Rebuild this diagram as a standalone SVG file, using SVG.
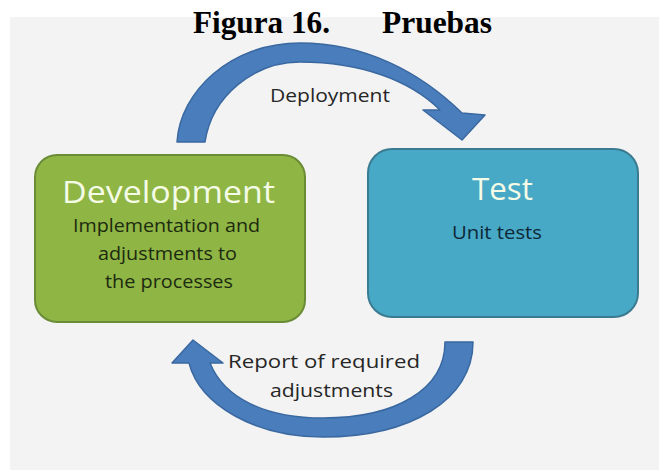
<svg xmlns="http://www.w3.org/2000/svg" width="659" height="470" viewBox="0 0 659 470">
<style>
.title{font-family:"Liberation Serif",serif;font-weight:bold;font-size:31px;fill:#000}
.lbl{font-family:"Open Sans","Liberation Sans",sans-serif;font-size:19px;fill:#262626}
.head{font-family:"Open Sans","Liberation Sans",sans-serif;font-size:31px;fill:#f4fbe6}
.sub{font-family:"Open Sans","Liberation Sans",sans-serif;font-size:18px}
.arrow{fill:#4a7dbb;stroke:#3a68a0;stroke-width:1.5;stroke-linejoin:round}
</style>
<rect x="0" y="0" width="659" height="470" fill="#ffffff"/>
<rect x="10" y="17" width="649" height="453" fill="#f3f3f3"/>
<text class="title" x="193" y="33" textLength="137" lengthAdjust="spacingAndGlyphs">Figura 16.</text>
<text class="title" x="382" y="33" textLength="110" lengthAdjust="spacingAndGlyphs">Pruebas</text>
<g id="connectors">
<path class="arrow" d="M177,142 C180,92 230,43 300,43 C365,43 420,72 462,113 L485,115 L462,140 L423,110 L440,110 C410,80 360,62 300,62 C255,62 212,95 205,142 Z"/>
<path class="arrow" d="M445,342 L473,342 C473,400 410,437 323,437 C255,437 200,405 189,363 L172,363 L193,340 L223,363 L210,363 C224,398 265,418 323,418 C395,418 445,390 445,342 Z"/>
<text class="lbl" x="270" y="102" textLength="120" lengthAdjust="spacingAndGlyphs">Deployment</text>
<text class="lbl" x="228" y="368" textLength="192" lengthAdjust="spacingAndGlyphs">Report of required</text>
<text class="lbl" x="270" y="397" textLength="123" lengthAdjust="spacingAndGlyphs">adjustments</text>
</g>
<g id="development">
<rect x="35" y="155" width="270" height="167" rx="22" fill="#8fb544" stroke="#6b8c36" stroke-width="2"/>
<text class="head" x="62" y="203" textLength="213" lengthAdjust="spacingAndGlyphs">Development</text>
<text class="sub" x="73" y="232" fill="#1c2a10" textLength="187" lengthAdjust="spacingAndGlyphs">Implementation and</text>
<text class="sub" x="98" y="260" fill="#1c2a10" textLength="139" lengthAdjust="spacingAndGlyphs">adjustments to</text>
<text class="sub" x="105" y="288" fill="#1c2a10" textLength="128" lengthAdjust="spacingAndGlyphs">the processes</text>
</g>
<g id="test">
<rect x="368" y="149" width="270" height="168" rx="24" fill="#48a9c6" stroke="#3a7b91" stroke-width="2"/>
<text class="head" x="472" y="200" font-size="34" fill="#eefaff" textLength="61" lengthAdjust="spacingAndGlyphs">Test</text>
<text class="sub" x="452" y="239" fill="#0d2838" textLength="90" lengthAdjust="spacingAndGlyphs">Unit tests</text>
</g>
</svg>
